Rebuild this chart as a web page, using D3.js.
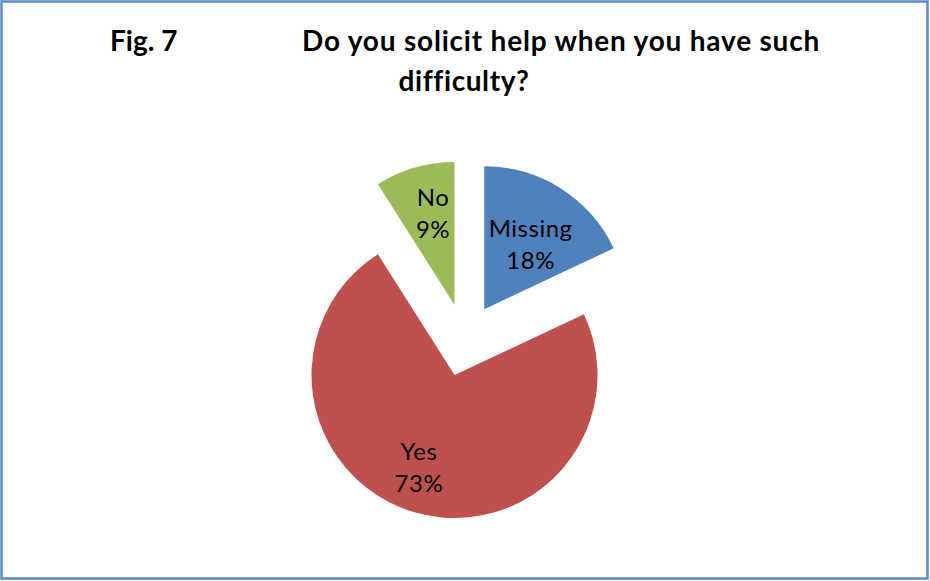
<!DOCTYPE html>
<html>
<head>
<meta charset="utf-8">
<script src="https://cdn.jsdelivr.net/npm/d3@7"></script>
<style>
  html, body { margin: 0; padding: 0; background: #fff; }
  svg { display: block; }
</style>
</head>
<body>
<script>
// Survey answers and their shares (percent)
const categories = ["Missing", "Yes", "No"];
const shares = [18, 73, 9];
const colors = ["#4f81bd", "#c0504d", "#9bbb59"];
const figLabel = "Fig. 7";
const titleLines = ["Do you solicit help when you have such", "difficulty?"];

const W = 930, H = 581;
const svg = d3.select("body").append("svg").attr("width", W).attr("height", H);

// chart frame
svg.append("rect")
  .attr("x", 1.5).attr("y", 1.5).attr("width", W - 4).attr("height", H - 4)
  .attr("fill", "#fff").attr("stroke", "#5a8ac6").attr("stroke-width", 2.5);

// title
const font = "Lato, 'Open Sans', sans-serif";
const title = (x, y, txt, anchor, spacing) => svg.append("text")
  .attr("x", x).attr("y", y).attr("text-anchor", anchor)
  .attr("font-family", font).attr("font-weight", 700).attr("font-size", 28)
  .attr("letter-spacing", spacing).attr("fill", "#000").text(txt);
title(110, 51, figLabel, "start", 0);
title(302, 51, titleLines[0], "start", 0.8);
title(464, 91, titleLines[1], "middle", 0.6);

// exploded pie
const cx = 464.7, cy = 340, radius = 143, explode = 36.5;
const pie = d3.pie().sort(null).value(d => d.value);
const data = categories.map((c, i) => ({ name: c, value: shares[i], color: colors[i] }));
const arcs = pie(data);
const arc = d3.arc().innerRadius(0).outerRadius(radius);

// label placement along each slice: fraction of radius and angular nudge (deg)
const labelPlace = { Missing: [0.56, 3], Yes: [0.69, 5], No: [0.66, 3] };

const g = svg.append("g").attr("transform", `translate(${cx},${cy})`);
const slices = g.selectAll("g.slice").data(arcs).join("g")
  .attr("class", "slice")
  .attr("transform", d => {
    const mid = (d.startAngle + d.endAngle) / 2;
    return `translate(${explode * Math.sin(mid)},${-explode * Math.cos(mid)})`;
  });

slices.append("path").attr("d", arc).attr("fill", d => d.data.color);

const total = d3.sum(shares);
slices.each(function (d) {
  const [f, nudge] = labelPlace[d.data.name];
  const a = (d.startAngle + d.endAngle) / 2 + nudge * Math.PI / 180;
  const x = f * radius * Math.sin(a), y = -f * radius * Math.cos(a);
  const t = d3.select(this).append("text")
    .attr("text-anchor", "middle")
    .attr("font-family", font).attr("font-size", 24).attr("letter-spacing", 0.5)
    .attr("fill", "#000");
  t.append("tspan").attr("x", x).attr("y", y - 7).text(d.data.name);
  t.append("tspan").attr("x", x).attr("y", y + 25)
    .text(Math.round(d.data.value / total * 100) + "%");
});
</script>
</body>
</html>
